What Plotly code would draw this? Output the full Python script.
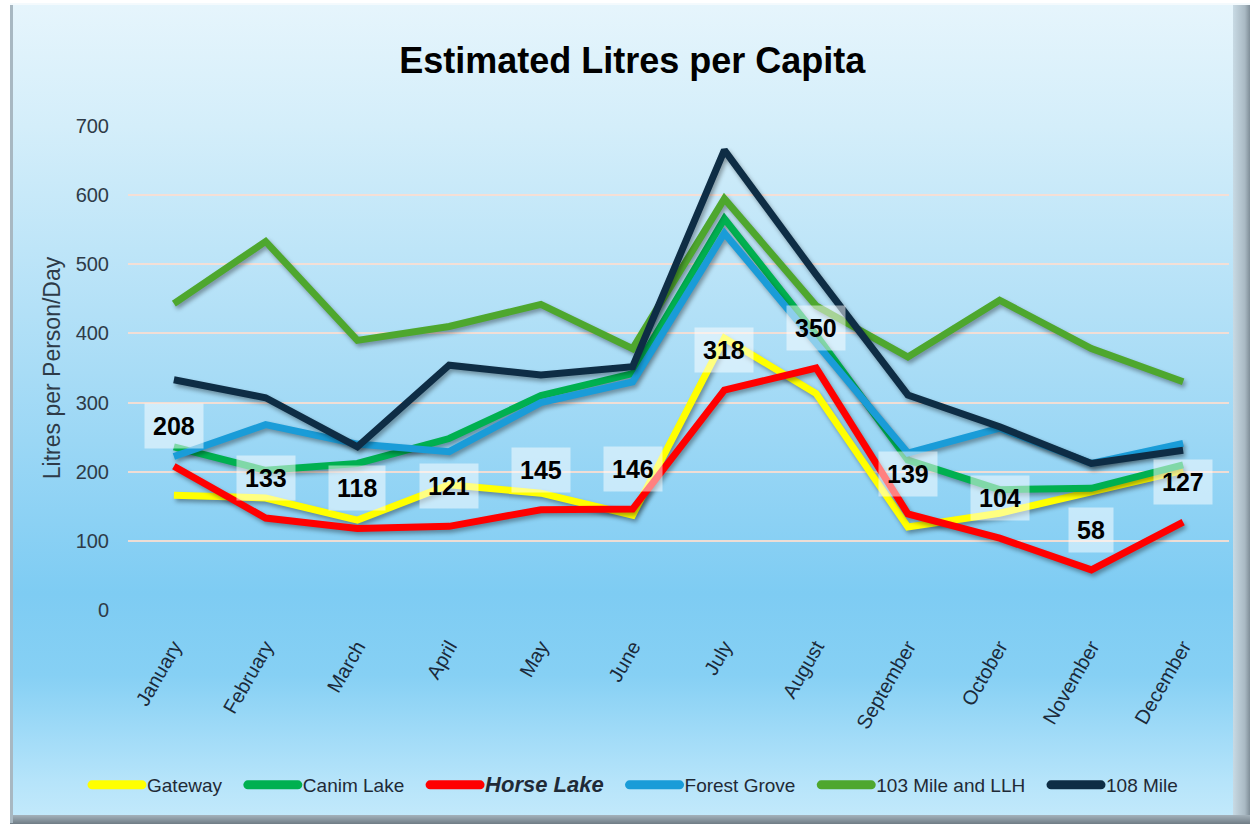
import base64
import plotly.graph_objects as go

months = ["January", "February", "March", "April", "May", "June", "July",
          "August", "September", "October", "November", "December"]
gateway = [166, 162, 130, 181, 169, 137, 393, 313, 120, 140, 171, 202]
canim_lake = [236, 202, 212, 248, 310, 342, 566, 398, 217, 174, 176, 210]
horse_lake = [208, 133, 118, 121, 145, 146, 318, 350, 139, 104, 58, 127]
forest_grove = [222, 268, 240, 229, 300, 330, 545, 385, 227, 263, 212, 241]
mile_103 = [443, 533, 390, 410, 442, 378, 595, 440, 366, 448, 378, 330]
mile_108 = [333, 307, 236, 354, 340, 352, 665, 485, 311, 265, 212, 231]
y_ticks = [0, 100, 200, 300, 400, 500, 600, 700]

PAD = "&nbsp;&nbsp;&nbsp;"
series = [
    ("Gateway" + PAD, gateway, "#FFFF00"),
    ("Canim Lake" + PAD, canim_lake, "#00B050"),
    ("<b><i><span style='font-size:22px'>Horse Lake</span></i></b>" + PAD, horse_lake, "#FF0000"),
    ("Forest Grove" + PAD, forest_grove, "#1A9CD8"),
    ("103 Mile and LLH" + PAD, mile_103, "#4EA72E"),
    ("108 Mile", mile_108, "#0E2D45"),
]

SANS = "Liberation Sans, Arial, sans-serif"

W, H = 1252, 826
svg = f"""<svg xmlns='http://www.w3.org/2000/svg' width='{W}' height='{H}' viewBox='0 0 {W} {H}' preserveAspectRatio='none'>
<defs>
<linearGradient id='g' x1='0' y1='0' x2='0' y2='1'>
<stop offset='0' stop-color='#E6F5FC'/>
<stop offset='0.15' stop-color='#D4EEFA'/>
<stop offset='0.45' stop-color='#A8DCF6'/>
<stop offset='0.72' stop-color='#7ECCF3'/>
<stop offset='0.82' stop-color='#86D0F4'/>
<stop offset='0.95' stop-color='#B6E4FA'/>
<stop offset='1' stop-color='#C4EAFB'/>
</linearGradient>
<linearGradient id='rb' x1='0' y1='0' x2='1' y2='0'>
<stop offset='0' stop-color='#C8DAE4'/>
<stop offset='0.7' stop-color='#A9B9C3'/>
<stop offset='1' stop-color='#7F8E98'/>
</linearGradient>
<linearGradient id='bb' x1='0' y1='0' x2='0' y2='1'>
<stop offset='0' stop-color='#A4B2BB'/>
<stop offset='1' stop-color='#6F7C85'/>
</linearGradient>
</defs>
<rect x='0' y='0' width='{W}' height='{H}' fill='#FFFFFF'/>
<rect x='10' y='3' width='1240' height='820' fill='url(#g)'/>
<rect x='1233' y='3' width='17' height='820' fill='url(#rb)'/>
<rect x='10' y='815' width='1240' height='9' fill='url(#bb)'/>
<rect x='10' y='3' width='3' height='820' fill='#A8B8C2'/>
<rect x='10' y='3' width='1240' height='2' fill='#F4FAFD'/>
</svg>"""
bg_src = "data:image/svg+xml;base64," + base64.b64encode(svg.encode()).decode()

fig = go.Figure()
for name, vals, color in series:
    fig.add_trace(go.Scatter(
        x=months, y=vals, name=name, mode="lines",
        line=dict(color=color, width=7),
        hoverinfo="skip",
    ))

annotations = []
for m, v in zip(months, horse_lake):
    annotations.append(dict(
        x=m, y=v, xref="x", yref="y", text=str(v), showarrow=False,
        yshift=40, font=dict(family=SANS, size=25, color="#000000", weight="bold"),
        bgcolor="rgba(255,255,255,0.5)", borderpad=8,
    ))

fig.update_layout(
    width=W, height=H,
    margin=dict(l=128, r=23, t=126, b=216),
    paper_bgcolor="rgba(0,0,0,0)",
    plot_bgcolor="rgba(0,0,0,0)",
    images=[dict(source=bg_src, xref="paper", yref="paper",
                 x=-128 / 1101, y=1 + 126 / 484, sizex=W / 1101, sizey=H / 484,
                 xanchor="left", yanchor="top", sizing="stretch", layer="below")],
    title=dict(text="<b>Estimated Litres per Capita</b>", x=0.505, y=1 - 60 / 826,
               xref="container", yref="container", xanchor="center", yanchor="middle",
               font=dict(family=SANS, size=36, color="#000000")),
    xaxis=dict(type="category", range=[-0.5, 11.5], showgrid=False, showline=False,
               zeroline=False, ticks="", tickangle=-60, ticklabelstandoff=20,
               tickfont=dict(family=SANS, size=20, color="#1B2A3A")),
    yaxis=dict(range=[0, 700], tickvals=y_ticks, showgrid=True,
               gridcolor="rgba(250,222,210,0.9)", gridwidth=2, zeroline=False,
               showline=False, ticks="", ticklabelstandoff=18,
               tickfont=dict(family=SANS, size=20, color="#2E3B48"),
               title=dict(text="Litres per Person/Day", standoff=8,
                          font=dict(family=SANS, size=23, color="#2E3B48"))),
    legend=dict(orientation="h", x=0.4605, y=-0.3616, xanchor="center", yanchor="middle",
                bgcolor="rgba(0,0,0,0)", itemwidth=50, traceorder="normal",
                font=dict(family=SANS, size=19, color="#1F2A36")),
    annotations=annotations,
    showlegend=True,
)

post = """
document.body.style.margin='0';
document.body.style.overflow='hidden';
document.querySelectorAll('.scatterlayer .trace path.js-line').forEach(function(p){
  p.style.filter='drop-shadow(2px 3px 2px rgba(0,0,0,0.35))';
});
document.querySelectorAll('.legend .legendlines path').forEach(function(p){
  p.style.strokeWidth='9px';
  p.style.strokeLinecap='round';
});
"""
fig.write_html("out.html", config={"displayModeBar": False}, post_script=post)
